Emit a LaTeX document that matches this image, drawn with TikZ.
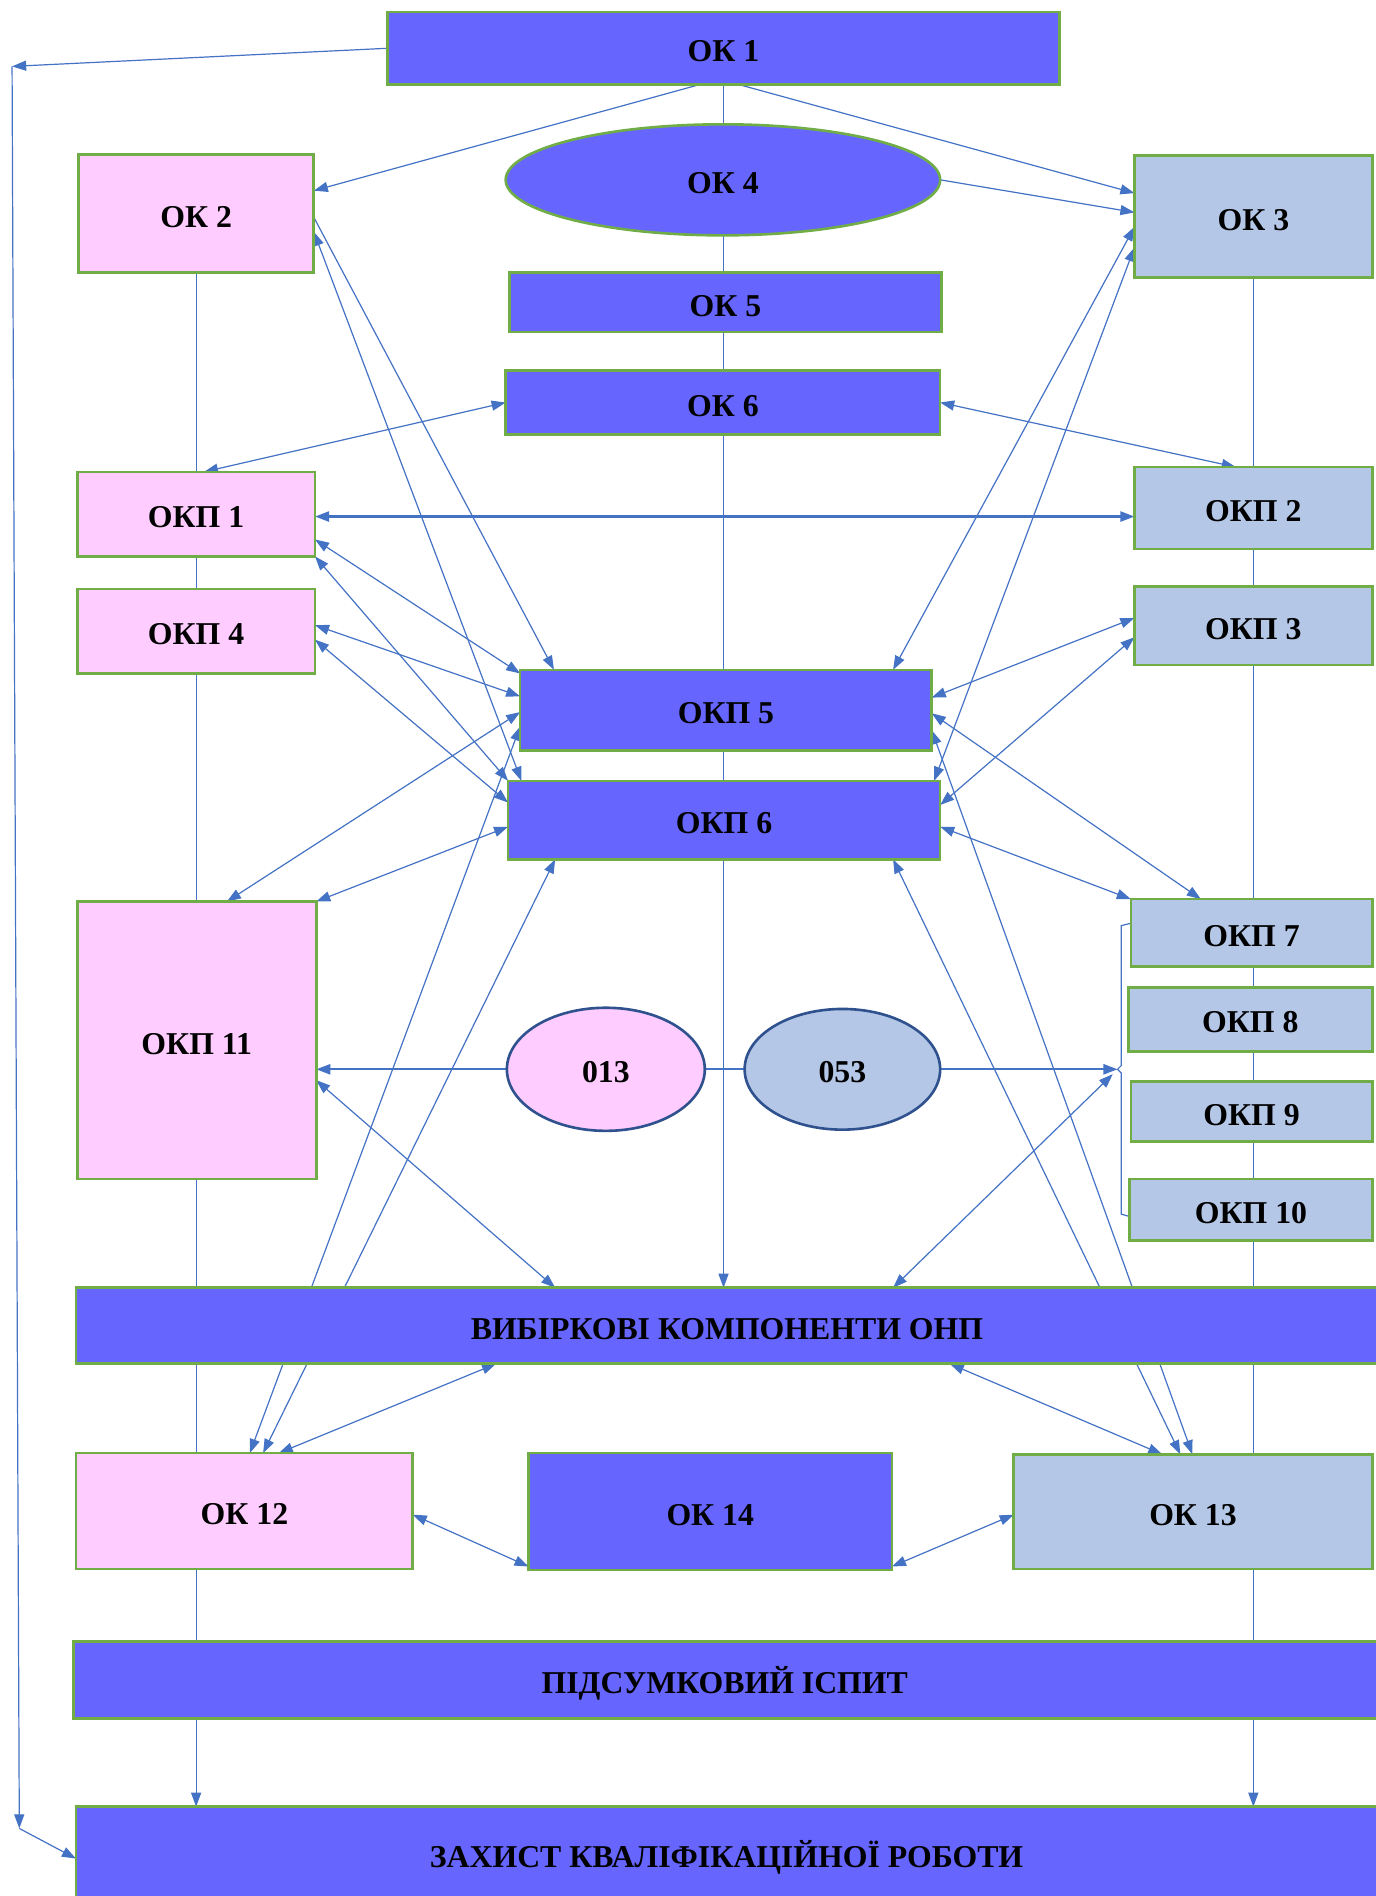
\documentclass[tikz,border=0pt]{standalone}
\usepackage{fontspec}
\setmainfont{Liberation Serif}
\usetikzlibrary{arrows.meta,shapes.geometric,backgrounds,calc}
\definecolor{bluefill}{HTML}{6666FF}
\definecolor{pinkfill}{HTML}{FFCCFF}
\definecolor{greyfill}{HTML}{B4C7E7}
\definecolor{grn}{HTML}{70AD47}
\definecolor{lnc}{HTML}{4472C4}
\definecolor{ellb}{HTML}{2F528F}
\newcommand{\lbl}{\fontsize{15.8}{18}\selectfont\bfseries}
\newcommand{\mkbox}[7]{\node[#6, minimum width={(#4-#2)*0.6pt}, minimum height={(#5-#3)*0.6pt}] (#1) at ({(#2+#4)/2},{(#3+#5)/2}) {#7};}
\newcommand{\mkell}[6]{\node[#5, ellipse, minimum width={(2*#4)*0.6pt}, minimum height={(2*#3)*0.6pt}] (#1) at (#2) {#6};}
\tikzset{
  conn/.style={draw=lnc, line width=0.6pt},
  thk/.style={line width=1.1pt},
  ahead/.style={conn, -{Triangle[length=7pt,width=5pt]}},
  both/.style={conn, {Triangle[length=7pt,width=5pt]}-{Triangle[length=7pt,width=5pt]}},
  txt/.style={font=\lbl, text height=13.6pt, text depth=0pt},
  boxbase/.style={draw=grn, line width=1.3pt, inner sep=0pt, outer sep=0pt, txt, rectangle},
  bbox/.style={boxbase, fill=bluefill},
  pbox/.style={boxbase, fill=pinkfill},
  gbox/.style={boxbase, fill=greyfill},
  elp/.style={draw=ellb, line width=1.3pt, inner sep=0pt, outer sep=0pt, txt, fill=pinkfill},
  elg/.style={draw=ellb, line width=1.3pt, inner sep=0pt, outer sep=0pt, txt, fill=greyfill},
  elb/.style={draw=grn, line width=1.3pt, inner sep=0pt, outer sep=0pt, txt, fill=bluefill},
}
\begin{document}
\begin{tikzpicture}[x=0.6pt,y=-0.6pt]
\useasboundingbox (0,0) rectangle (1140,1571);
% nodes
\mkbox{ok1}{321}{10}{878}{70}{bbox}{ОК 1}
\mkbox{ok2}{65}{128}{260}{226}{pbox}{ОК 2}
\mkell{ok4}{599,149}{46}{180}{elb}{ОК 4}
\mkbox{ok3}{940}{129}{1137}{230}{gbox}{ОК 3}
\mkbox{ok5}{422}{226}{780}{275}{bbox}{ОК 5}
\mkbox{ok6}{419}{307}{779}{360}{bbox}{ОК 6}
\mkbox{okp1}{64}{391}{261}{461}{pbox}{ОКП 1}
\mkbox{okp2}{940}{387}{1137}{455}{gbox}{ОКП 2}
\mkbox{okp4}{64}{488}{261}{558}{pbox}{ОКП 4}
\mkbox{okp3}{940}{486}{1137}{551}{gbox}{ОКП 3}
\mkbox{okp5}{431}{555}{772}{622}{bbox}{ОКП 5}
\mkbox{okp6}{421}{647}{779}{712}{bbox}{ОКП 6}
\mkbox{okp11}{64}{747}{262}{977}{pbox}{ОКП 11}
\mkbox{okp7}{937}{745}{1137}{801}{gbox}{ОКП 7}
\mkbox{okp8}{935}{818}{1137}{871}{gbox}{ОКП 8}
\mkbox{okp9}{937}{896}{1137}{946}{gbox}{ОКП 9}
\mkbox{okp10}{936}{977}{1137}{1028}{gbox}{ОКП 10}
\mkell{e013}{502,886}{51}{82}{elp}{013}
\mkell{e053}{698,886}{50}{81}{elg}{053}
\mkbox{vyb}{63}{1067}{1150}{1130}{bbox}{\hspace*{-5pt}ВИБІРКОВІ КОМПОНЕНТИ ОНП}
\mkbox{ok12}{63}{1204}{342}{1300}{pbox}{ОК 12}
\mkbox{ok14}{438}{1204}{739}{1301}{bbox}{ОК 14}
\mkbox{ok13}{840}{1205}{1137}{1300}{gbox}{ОК 13}
\mkbox{pids}{61}{1360}{1150}{1424}{bbox}{\hspace*{-6pt}ПІДСУМКОВИЙ ІСПИТ}
\mkbox{zakh}{63}{1497}{1150}{1600}{bbox}{}
\node[txt, inner sep=0pt] (zakhtxt) at (602,1536) {ЗАХИСТ КВАЛІФІКАЦІЙНОЇ РОБОТИ};
\coordinate (c1) at (10,55);
\coordinate (c2) at (16,1515);
\coordinate (br) at (926,886);
\begin{pgfonlayer}{background}
% long vertical lines
\draw[ahead] (ok1.south) -- (ok1.south |- vyb.north);
\draw[ahead] (ok2.south) -- (ok2.south |- zakh.north);
\draw[ahead] (ok3.south) -- (ok3.south |- zakh.north);
% outer left loop
\draw[ahead] (ok1.west) -- (c1);
\draw[ahead] (c1) -- (c2);
\draw[ahead] (c2) -- ([shift={(0,43)}]zakh.north west);
% from OK1
\draw[ahead] ([shift={(259,0)}]ok1.south west) -- ([shift={(0,30)}]ok2.north east);
\draw[ahead] ([shift={(291,0)}]ok1.south west) -- ([shift={(0,31)}]ok3.north west);
\draw[ahead] (ok4.east) -- ([shift={(0,47)}]ok3.north west);
% left side
\draw[ahead] ([shift={(0,52)}]ok2.north east) -- ([shift={(28,0)}]okp5.north west);
\draw[both] ([shift={(0,64)}]ok2.north east) -- ([shift={(11,0)}]okp6.north west);
\draw[both] (ok6.west) -- ([shift={(105,0)}]okp1.north west);
\draw[both] (ok6.east) -- ([shift={(84,0)}]okp2.north west);
\draw[both,thk] ([shift={(0,37)}]okp1.north east) -- ([shift={(0,41)}]okp2.north west);
\draw[both] ([shift={(0,56)}]okp1.north east) -- ([shift={(0,3)}]okp5.north west);
\draw[both] (okp1.south east) -- (okp6.north west);
\draw[both] ([shift={(0,30)}]okp4.north east) -- ([shift={(0,22)}]okp5.north west);
\draw[both] ([shift={(0,42)}]okp4.north east) -- ([shift={(0,18)}]okp6.north west);
\draw[both] ([shift={(0,35)}]okp5.north west) -- ([shift={(124,0)}]okp11.north west);
\draw[both] ([shift={(0,47)}]okp5.north west) -- ([shift={(144,0)}]ok12.north west);
\draw[both] ([shift={(39,0)}]okp6.south west) -- ([shift={(155,0)}]ok12.north west);
\draw[both] ([shift={(0,38)}]okp6.north west) -- (okp11.north east);
\draw[ahead,thk] (e013.west) -- ([shift={(0,139)}]okp11.north east);
\draw[conn,thk] (e013.east) -- (e053.west);
\draw[both] ([shift={(0,148)}]okp11.north east) -- ([shift={(397,0)}]vyb.north west);
\draw[both] ([shift={(348,0)}]vyb.south west) -- ([shift={(168,0)}]ok12.north west);
% right side
\draw[both] ([shift={(0,59)}]ok3.north west) -- ([shift={(309,0)}]okp5.north west);
\draw[both] ([shift={(0,76)}]ok3.north west) -- ([shift={(353,0)}]okp6.north west);
\draw[both] ([shift={(0,26)}]okp3.north west) -- ([shift={(0,23)}]okp5.north east);
\draw[both] ([shift={(0,42)}]okp3.north west) -- ([shift={(0,20)}]okp6.north east);
\draw[both] ([shift={(0,36)}]okp5.north east) -- ([shift={(58,0)}]okp7.north west);
\draw[both] ([shift={(0,50)}]okp5.north east) -- ([shift={(148,0)}]ok13.north west);
\draw[both] ([shift={(319,0)}]okp6.south west) -- ([shift={(138,0)}]ok13.north west);
\draw[both] ([shift={(0,38)}]okp6.north east) -- (okp7.north west);
\draw[both] ([shift={(724,0)}]vyb.south west) -- ([shift={(123,0)}]ok13.north west);
\draw[ahead,thk] (e053.east) -- (br);
\draw[both] ([shift={(677,0)}]vyb.north west) -- ([shift={(-4,4)}]br);
\draw[conn] ([shift={(0,20)}]okp7.north west) -- ++(-8,2) -- (929,883) -- (br) -- (929,889) -- (929,1006) -- ([shift={(0,31)}]okp10.north west);
% bottom row
\draw[both] ([shift={(0,51)}]ok12.north east) -- ([shift={(0,-3)}]ok14.south west);
\draw[both] ([shift={(0,-3)}]ok14.south east) -- ([shift={(0,50)}]ok13.north west);
\end{pgfonlayer}
\end{tikzpicture}
\end{document}
